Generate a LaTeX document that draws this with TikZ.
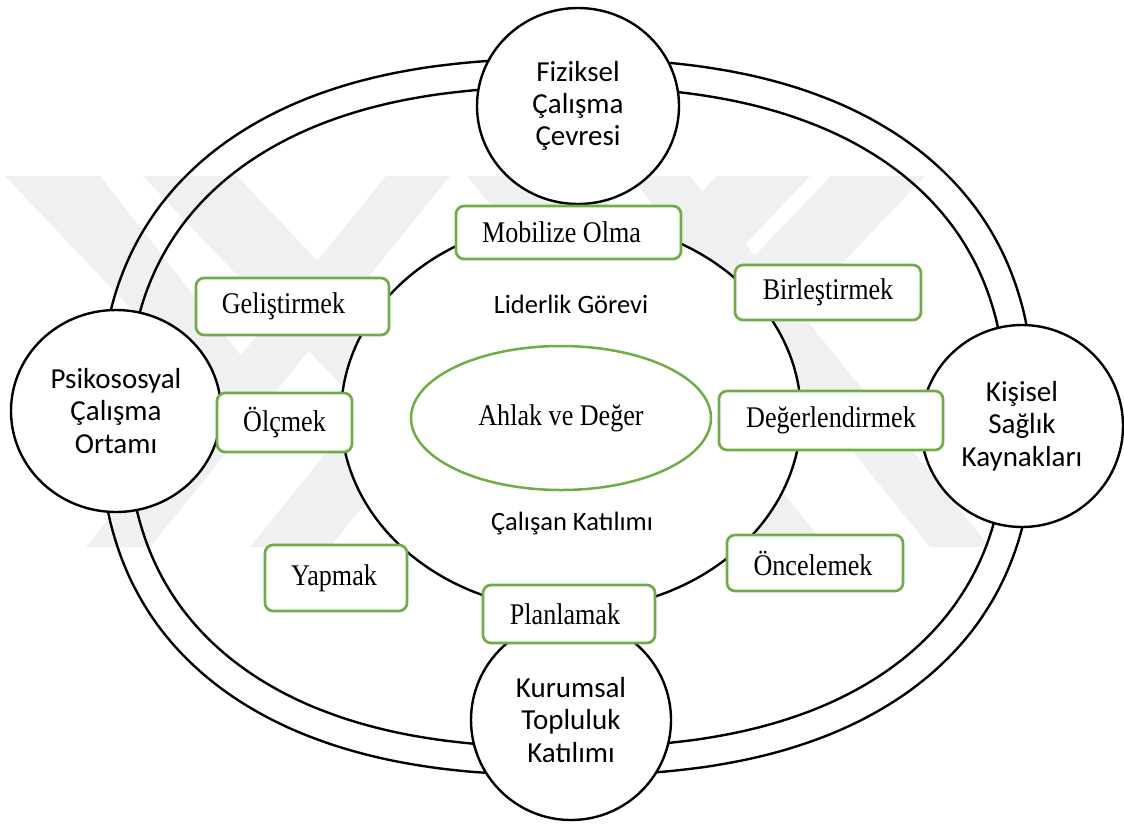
\documentclass[tikz,border=0pt]{standalone}
\usepackage{fontspec}
\setmainfont{Liberation Serif}[FakeStretch=0.87]
\newfontfamily\labelsans{Carlito}
\usetikzlibrary{shapes.geometric}
\definecolor{leafgreen}{HTML}{70AD47}

\tikzset{
  mark band/.style={fill=black!6, draw=none},
  ringline/.style={draw=black, line width=2.4pt},
  hub/.style={ellipse, draw=black, line width=2.4pt, fill=white, inner sep=0pt,
    align=center, font=\labelsans\fontsize{29}{32.3}\selectfont},
  stepbox/.style={rectangle, draw=leafgreen, line width=2.7pt, rounded corners=8pt,
    fill=white, inner sep=0pt, font=\fontsize{30}{33}\selectfont},
  core/.style={ellipse, draw=leafgreen, line width=2.5pt, fill=white, inner sep=0pt,
    font=\fontsize{30}{33}\selectfont},
  caption/.style={font=\labelsans\fontsize{26.5}{30}\selectfont, inner sep=0pt},
}

% rounded ring: |x/a|^n + |y/b|^n = 1 with n = 2.4 (exponent 2/n = 0.833)
\newcommand{\ringpath}[2]{%
  plot[domain=0.5:360.5, samples=181, smooth]
    ({567 + #1*cos(\x)/abs(cos(\x))*pow(abs(cos(\x)),0.833)},
     {417 + #2*sin(\x)/abs(sin(\x))*pow(abs(sin(\x)),0.833)}) -- cycle}

\begin{document}
\begin{tikzpicture}[x=1pt, y=-1pt]
  \useasboundingbox[fill=white] (0,0) rectangle (1124,823);

  % faint chevron background stamp
  \fill[mark band] (5,176) -- (100,176) -- (256,375) -- (211,393) -- cycle;
  \fill[mark band] (86,547) -- (150,547) -- (450,176) -- (386,176) -- cycle;
  \fill[mark band] (143,176) -- (237,176) -- (449,400) -- (363,408) -- cycle;
  \fill[mark band] (250,547) -- (330,547) -- (630,176) -- (550,176) -- cycle;
  \fill[mark band] (831,176) -- (925,176) -- (798,310) -- (722,290) -- cycle;
  \fill[mark band] (930,547) -- (990,547) -- (690,176) -- (630,176) -- cycle;
  \fill[mark band] (717,176) -- (810,176) -- (657,337) -- (582,318) -- cycle;
  \fill[mark band] (767,547) -- (827,547) -- (527,176) -- (467,176) -- cycle;

  % double ring around everything
  \draw[ringline] \ringpath{467}{358};
  \draw[ringline] \ringpath{439}{330};

  % four outer pillars sitting on the ring
  \node[hub, minimum width=202pt, minimum height=196pt] (fiz) at (578,106)
    {Fiziksel\\Çalışma\\Çevresi};
  \node[hub, minimum width=210pt, minimum height=202pt] (psi) at (116,411)
    {Psikososyal\\Çalışma\\Ortamı};
  \node[hub, minimum width=202pt, minimum height=202pt] (kis) at (1022,426)
    {Kişisel\\Sağlık\\Kaynakları};
  \node[hub, minimum width=200pt, minimum height=200pt] (kur) at (571,720)
    {Kurumsal\\Topluluk\\Katılımı};

  % inner cycle
  \node[ellipse, draw=black, line width=2.4pt, fill=white, inner sep=0pt,
        minimum width=460pt, minimum height=390pt] (cycle) at (571,415) {};

  % centre
  \node[core, minimum width=300pt, minimum height=144pt] (ahlak) at (561,418)
    {Ahlak ve Değer};

  \node[caption] (lider) at (571,304) {Liderlik Görevi};
  \node[caption] (calisan) at (572,524) {Çalışan Katılımı};

  % process steps around the cycle
  \node[stepbox, minimum width=225pt, minimum height=53pt] (mob) at (568.5,232.5) {Mobilize Olma\kern14pt};
  \node[stepbox, minimum width=186pt, minimum height=55pt] (bir) at (828,292.5) {Birleştirmek};
  \node[stepbox, minimum width=224pt, minimum height=59pt] (deg) at (831,420.5) {Değerlendirmek};
  \node[stepbox, minimum width=176pt, minimum height=56pt] (onc) at (815,563) {Öncelemek\kern4pt};
  \node[stepbox, minimum width=172pt, minimum height=58pt] (pla) at (569,614) {Planlamak\kern8pt};
  \node[stepbox, minimum width=142pt, minimum height=66pt] (yap) at (336,578) {Yapmak\kern4pt};
  \node[stepbox, minimum width=135pt, minimum height=59pt] (olc) at (284.5,422.5) {Ölçmek};
  \node[stepbox, minimum width=193pt, minimum height=57pt] (gel) at (292.5,306.5) {Geliştirmek\kern18pt};
\end{tikzpicture}
\end{document}
